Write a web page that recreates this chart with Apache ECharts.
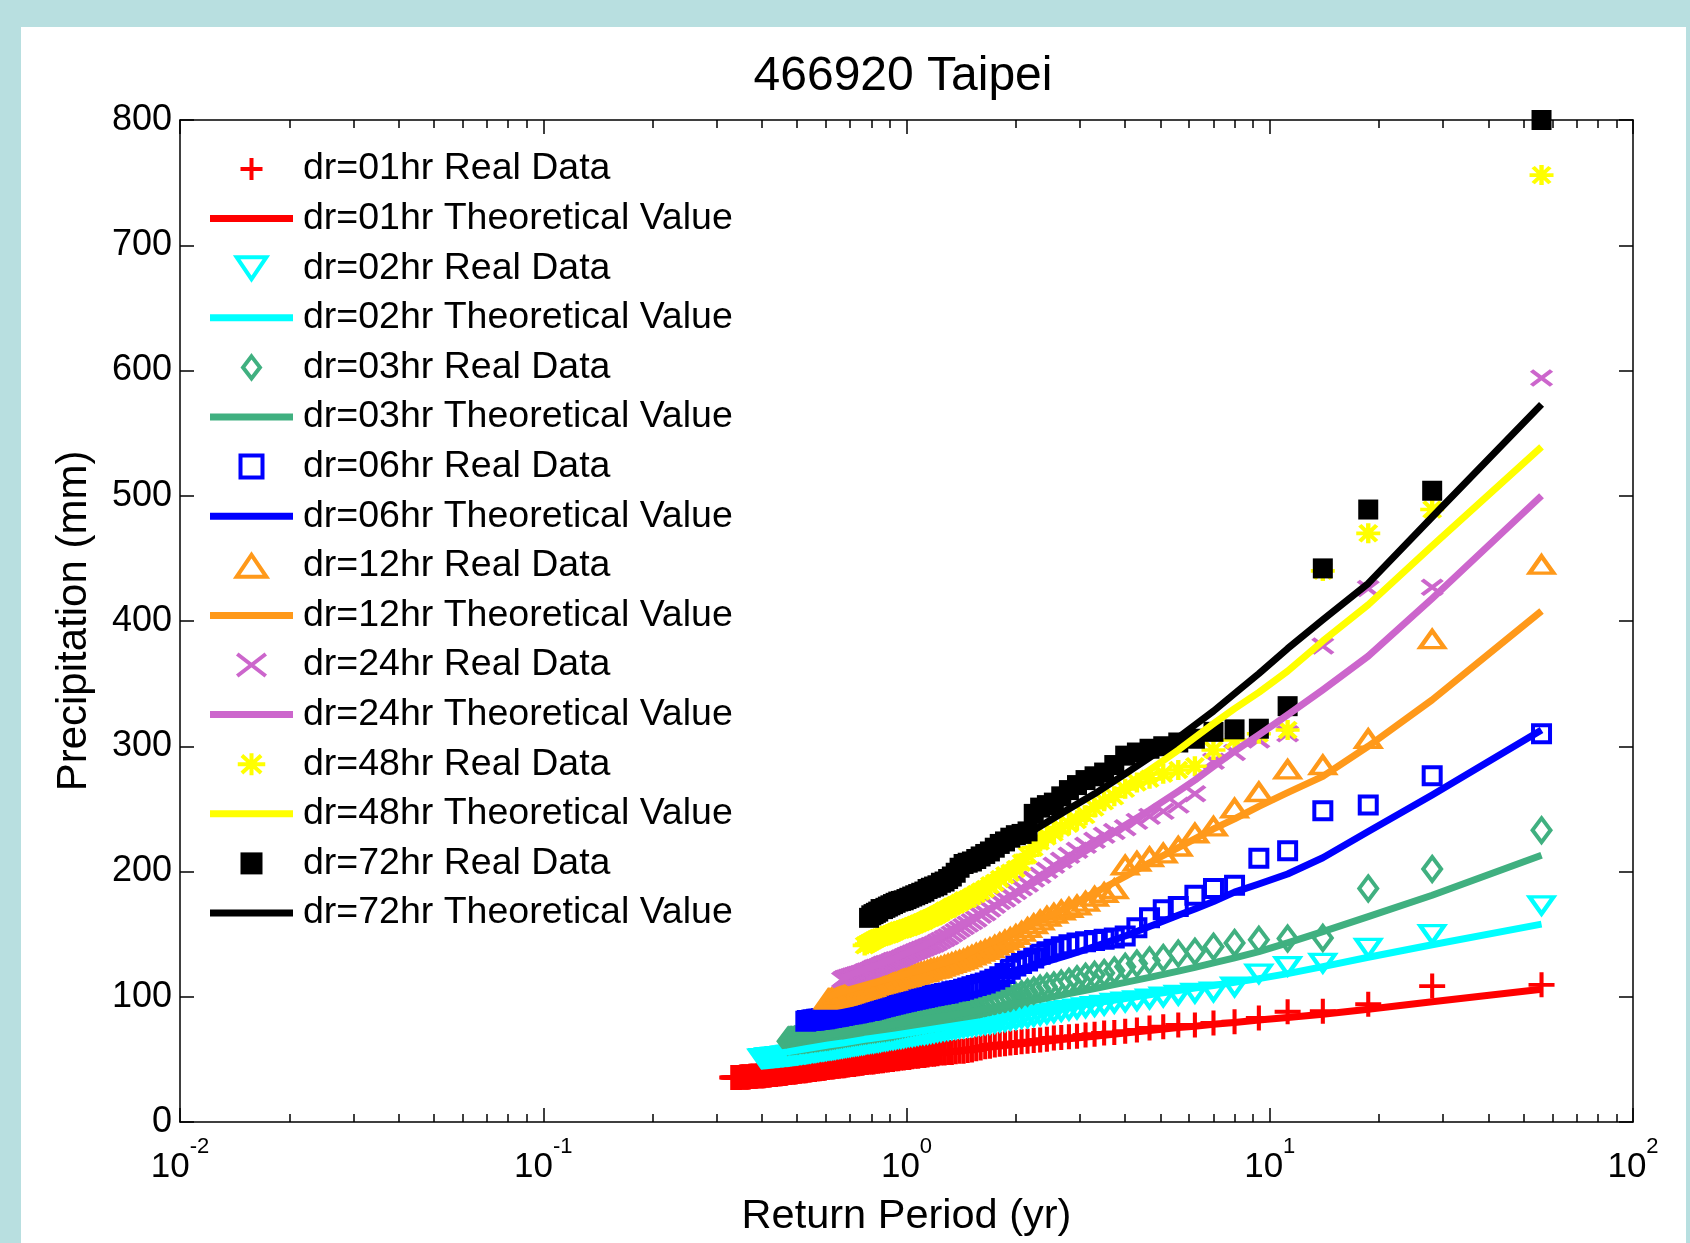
<!DOCTYPE html>
<html>
<head>
<meta charset="utf-8">
<script src="https://cdn.jsdelivr.net/npm/echarts@6/dist/echarts.min.js"></script>
<style>
html,body{margin:0;padding:0;background:#b8dfe0;width:1690px;height:1243px;overflow:hidden;}
#panel{position:absolute;left:21px;top:27px;width:1665px;height:1216px;background:#fff;}
#chart{position:absolute;left:0;top:0;width:1690px;height:1243px;}
</style>
</head>
<body>
<div id="panel"></div>
<div id="chart"></div>
<script>
// Return period (yr) of each ranked event (rank 1 = largest)
const returnPeriod = [
  56, 28, 18.67, 14, 11.2, 9.333, 8, 7, 6.222, 5.6,
  5.091, 4.667, 4.308, 4, 3.733, 3.5, 3.294, 3.111, 2.947, 2.8,
  2.667, 2.545, 2.435, 2.333, 2.24, 2.154, 2.074, 2, 1.931, 1.867,
  1.806, 1.75, 1.697, 1.647, 1.6, 1.556, 1.514, 1.474, 1.436, 1.4,
  1.366, 1.333, 1.302, 1.273, 1.244, 1.217, 1.191, 1.167, 1.143, 1.12,
  1.098, 1.077, 1.057, 1.037, 1.018, 1, 0.9825, 0.9655, 0.9492, 0.9333,
  0.918, 0.9032, 0.8889, 0.875, 0.8615, 0.8485, 0.8358, 0.8235, 0.8116, 0.8,
  0.7887, 0.7778, 0.7671, 0.7568, 0.7467, 0.7368, 0.7273, 0.7179, 0.7089, 0.7,
  0.6914, 0.6829, 0.6747, 0.6667, 0.6588, 0.6512, 0.6437, 0.6364, 0.6292, 0.6222,
  0.6154, 0.6087, 0.6022, 0.5957, 0.5895, 0.5833, 0.5773, 0.5714, 0.5657, 0.56,
  0.5545, 0.549, 0.5437, 0.5385, 0.5333, 0.5283, 0.5234, 0.5185, 0.5138, 0.5091,
  0.5045, 0.5, 0.4956, 0.4912, 0.487, 0.4828, 0.4786, 0.4746, 0.4706, 0.4667,
  0.4628, 0.459, 0.4553, 0.4516, 0.448, 0.4444, 0.4409, 0.4375, 0.4341, 0.4308,
  0.4275, 0.4242, 0.4211, 0.4179, 0.4148, 0.4118, 0.4088, 0.4058, 0.4029, 0.4,
  0.3972, 0.3944, 0.3916, 0.3889, 0.3862, 0.3836, 0.381, 0.3784, 0.3758, 0.3733,
  0.3709, 0.3684, 0.366, 0.3636, 0.3613, 0.359, 0.3567, 0.3544, 0.3522, 0.35,
  0.3478, 0.3457, 0.3436, 0.3415, 0.3394, 0.3373, 0.3353, 0.3333, 0.3314
];

// Ranks at which the theoretical curves are drawn
const theoryRanks = [1, 2, 3, 4, 5, 6, 7, 8, 9, 10, 12, 14, 17, 20, 25, 30, 35, 40, 50, 60, 71, 73, 84, 92, 106, 119, 140, 169];

// Axis ticks
const xMajorTicks = [0.01, 0.1, 1, 10, 100];
const xMinorTicks = [0.02, 0.03, 0.04, 0.05, 0.06, 0.07, 0.08, 0.09,
  0.2, 0.3, 0.4, 0.5, 0.6, 0.7, 0.8, 0.9,
  2, 3, 4, 5, 6, 7, 8, 9,
  20, 30, 40, 50, 60, 70, 80, 90];
const yMin = 0, yMax = 800, yStep = 100;

// Real data (mm), by rank
const dr01Real = [
  109.5, 108.5, 94, 88.5, 88, 83, 80, 79, 77.5, 77.5,
  76, 75, 73.5, 72.5, 71.5, 71, 70, 69.5, 68.5, 68,
  67.5, 67, 66, 65.5, 65, 64.5, 64, 63.5, 63, 62.5,
  62, 61.5, 60.5, 60, 59, 58.5, 57.5, 57, 56.5, 56.5,
  56, 55.5, 55.5, 55, 55, 54.5, 54, 54, 53.5, 53,
  53, 52.5, 52.5, 52, 51.5, 51.5, 51, 51, 50.5, 50.5,
  50, 50, 49.5, 49.5, 49, 49, 48.5, 48.5, 48, 48,
  48, 47.5, 47.5, 47, 47, 46.5, 46.5, 46, 46, 46,
  45.5, 45.5, 45, 45, 45, 44.5, 44.5, 44.5, 44, 44,
  44, 43.5, 43.5, 43, 43, 43, 42.5, 42.5, 42.5, 42,
  42, 42, 41.5, 41.5, 41.5, 41, 41, 41, 41, 40.5,
  40.5, 40.5, 40, 40, 40, 40, 39.5, 39.5, 39.5, 39,
  39, 39, 39, 38.5, 38.5, 38.5, 38.5, 38, 38, 38,
  38, 38, 37.5, 37.5, 37.5, 37.5, 37.5, 37, 37, 37,
  37, 37, 37, 37, 36.5, 36.5, 36.5, 36.5, 36.5, 36.5,
  36.5, 36, 36, 36, 36, 36, 36, 36, 36, 36,
  35.5, 35.5, 35.5, 35.5, 35.5, 35.5, 35.5, 35.5, 35.5
];
const dr02Real = [
  173, 150, 139, 127, 124.5, 118.5, 108, 104, 103, 101.5,
  100, 98.5, 97, 96, 95, 93.5, 92.5, 91.5, 90.5, 89.5,
  88.5, 87.5, 86.5, 85.5, 84.5, 83.5, 83, 82, 81.5, 80.5,
  80, 79, 78.5, 78, 77.5, 77, 76.5, 76, 75.5, 75,
  74.5, 74, 73.5, 73, 72.5, 72, 71.5, 71, 70.5, 70,
  70, 69.5, 69, 68.5, 68.5, 68, 67.5, 67, 67, 66.5,
  66, 66, 65.5, 65, 65, 64.5, 64, 64, 63.5, 63.5,
  63, 63, 62.5, 62, 62, 61.5, 61.5, 61, 61, 60.5,
  60.5, 60, 60, 59.5, 59.5, 59, 59, 58.5, 58.5, 58,
  58, 58, 57.5, 57.5, 57, 57, 57, 56.5, 56.5, 56,
  56, 56, 55.5, 55.5, 55.5, 55, 55, 55, 54.5, 54.5,
  54.5, 54, 54, 54, 53.5, 53.5, 53.5, 53, 53, 53,
  53, 52.5, 52.5, 52.5, 52.5, 52, 52, 52, 52, 51.5,
  51.5, 51.5, 51.5, 51.5, 51, 51, 51, 51, 51, 50.5
];
const dr03Real = [
  233, 202, 186.5, 147, 146.5, 145.5, 143, 140, 136, 134.5,
  131, 129, 126.5, 124, 121, 119, 117.5, 116, 114, 112,
  110.5, 109, 108, 106.5, 105, 103.5, 102, 100.5, 99, 98,
  97, 96, 95, 94, 93, 92, 91, 90, 89, 88,
  87, 86.5, 86, 85, 84.5, 84, 83.5, 83, 82.5, 82,
  81.5, 81, 80.5, 80, 79.5, 79, 78.5, 78, 77.5, 77,
  76.5, 76, 76, 75.5, 75.5, 75, 75, 74.5, 74.5, 74,
  74, 73.5, 73.5, 73, 73, 72.5, 72.5, 72, 72, 71.5,
  71.5, 71, 71, 70.5, 70.5, 70, 70, 69.5, 69.5, 69,
  69, 68.5, 68.5, 68.5, 68, 68, 68, 67.5, 67.5, 67.5,
  67, 67, 67, 66.5, 66.5, 66.5, 66, 66, 66, 66,
  65.5, 65.5, 65.5, 65.5, 65, 65, 65, 65, 64.5
];
const dr06Real = [
  310, 276.5, 253, 248.5, 216.5, 210.5, 189, 186.5, 181, 172,
  169.5, 163, 155, 148.5, 147, 146, 145, 144, 143, 141.5,
  140, 138, 136, 134, 131, 128.5, 126.5, 124.5, 122, 118.5,
  116, 114, 112.5, 111, 110, 109, 108, 107, 106, 105,
  104.5, 104, 103, 102.5, 102, 101.5, 101, 100.5, 100, 99.5,
  99, 98.5, 98, 97.5, 97, 96.5, 96, 95.5, 95, 94.5,
  94, 93.5, 93, 92.5, 92, 91.5, 91, 90.5, 90, 89.5,
  89, 89, 88.5, 88, 88, 87.5, 87, 87, 86.5, 86.5,
  86, 86, 85.5, 85, 85, 84.5, 84.5, 84, 84, 83.5,
  83.5, 83, 83, 82.5, 82.5, 82.5, 82, 82, 82, 81.5,
  81.5, 81.5, 81, 81, 81, 80.5
];
const dr12Real = [
  445, 385.5, 306, 285, 281.5, 263.5, 250.5, 236, 230.5, 220,
  214.5, 211.5, 208, 205, 186, 183, 180, 176, 173, 171,
  169, 166.5, 164, 161, 158, 155, 152, 149.5, 147, 145,
  143, 141, 139, 137.5, 136, 134.5, 133, 131.5, 130, 129,
  128, 127, 126, 125, 124, 123, 122.5, 122, 121, 120,
  119.5, 119, 118, 117.5, 117, 116, 115.5, 115, 114.5, 114,
  113, 112.5, 112, 111.5, 111, 110.5, 110, 109.5, 109, 108,
  107.5, 107, 106.5, 106, 105.5, 105, 104.5, 104, 103.5, 103,
  102.5, 102, 101.5, 101, 100.5, 100, 99.5, 99, 99, 98.5,
  98, 98
];
const dr24Real = [
  594, 427, 426, 380, 310, 305, 295, 288, 262, 253,
  248, 244, 240, 235, 232, 229, 225, 221, 217, 213,
  209, 205, 201, 197, 194, 190, 187, 184, 181, 178,
  176, 173, 170, 167, 165, 162, 160, 158, 156, 154,
  152, 150, 148, 146.5, 145, 143.5, 142, 141, 140, 139,
  138, 137, 136, 135, 134, 133, 132, 131, 130, 129.5,
  129, 128, 127, 126.5, 126, 125, 124, 123.5, 123, 122,
  121, 120.5, 120, 119, 118.5, 118, 117.5, 117, 116.5, 116,
  115.5, 115, 114.5, 113.5
];
const dr48Real = [
  756, 489, 470, 440, 313, 310, 305, 297, 284, 281,
  278, 274, 271, 266, 260, 256, 251, 245, 241, 238,
  235, 231, 228, 224, 219, 213, 207, 202, 199, 197,
  194, 191, 189, 186, 184, 182, 180, 178, 177, 175,
  173.5, 172, 170, 169, 167, 165.5, 164, 163, 162, 160.5,
  159.5, 158.5, 157.5, 156.5, 155.5, 155, 154, 153.5, 153, 152,
  151, 150, 149.5, 149, 148, 147.5, 147, 146, 145, 144,
  143, 142, 141
];
const dr72Real = [
  800, 504, 489, 442, 332, 314, 313.5, 311.5, 306, 303,
  300, 298, 295, 292.5, 285, 279, 276, 273, 269, 265,
  260, 255, 253, 251, 246, 232, 230, 229, 227, 224,
  222, 219, 216, 214, 212, 210, 208, 207, 206, 203,
  199, 196, 194, 192, 191, 189, 188, 187, 186, 184,
  183, 182, 181, 180, 179, 178, 177, 176.5, 176, 175,
  174, 173, 172, 171, 170, 170, 168, 167, 166, 165,
  163
];

// Theoretical values (mm) at theoryRanks (null = beyond the record)
const dr01Theory = [106, 96, 90, 86, 83.5, 81.5, 79.5, 78, 76.5, 75.5, 73, 71, 68.5, 66.5, 63.5, 61, 59, 57, 54, 51.5, 49, 48.5, 46, 44.5, 42.5, 41, 39, 36.5];
const dr02Theory = [158, 141.5, 131.5, 124, 118.5, 114.5, 111.5, 109, 107, 105, 101.5, 98.5, 95, 92, 87.5, 84, 80, 77.5, 73, 69.5, 66.5, 66, 63, 61.5, 58.5, 56, 53, null];
const dr03Theory = [213, 181, 164, 152, 143, 136, 131, 127, 123.5, 120.5, 115.5, 111.5, 106.5, 102.5, 97, 93, 89.5, 86.5, 82, 78, 75, 74.5, 71.5, 69.5, 67, 65, null, null];
const dr06Theory = [313, 261, 232, 211, 198, 190, 183.5, 176, 170, 165, 156, 148.5, 140, 133.5, 125, 119, 114, 110, 101, 96, 91.5, 91, 87.5, 85, 81.5, null, null, null];
const dr12Theory = [408, 337, 300, 276, 263, 252, 242, 234, 226, 219, 207, 196, 183, 172, 159, 148, 140, 131, 122, 116, 110, 109, 104, 100, null, null, null, null];
const dr24Theory = [500, 418, 372, 345, 325, 309, 296, 284, 273, 264, 249, 237, 221, 208, 191, 177, 166, 157, 141, 131, 123, 122, 115, null, null, null, null, null];
const dr48Theory = [539, 460, 413, 384, 360, 343, 330, 318, 307, 297, 281, 268, 252, 239, 218, 202, 190, 181, 167, 156, 146, 144, null, null, null, null, null, null];
const dr72Theory = [573, 483, 430, 401, 378, 358, 342, 328, 317, 307, 291, 278, 262, 250, 233, 220, 209, 200, 186, 175, 165, null, null, null, null, null, null, null];

const durations = ['dr=01hr', 'dr=02hr', 'dr=03hr', 'dr=06hr', 'dr=12hr', 'dr=24hr', 'dr=48hr', 'dr=72hr'];
const realSets = [dr01Real, dr02Real, dr03Real, dr06Real, dr12Real, dr24Real, dr48Real, dr72Real];
const theorySets = [dr01Theory, dr02Theory, dr03Theory, dr06Theory, dr12Theory, dr24Theory, dr48Theory, dr72Theory];

// ---------- styling ----------
const FONT = '"Liberation Sans", Arial, Helvetica, sans-serif';
const SYM = {
  plus: 'path://M0,5L10,5M5,0L5,10',
  triDown: 'path://M0,0L10,0L5,7.4Z',
  diamond: 'path://M5,0L10,6.5L5,13L0,6.5Z',
  square: 'path://M0,0L10,0L10,10L0,10Z',
  triUp: 'path://M5,0L10,7.4L0,7.4Z',
  cross: 'path://M0,0L10,7.7M10,0L0,7.7',
  star: 'path://M5,0L5,8M0,4L10,4M1.5,0.8L8.5,7.2M8.5,0.8L1.5,7.2'
};
const BAR = 'path://M0,0L83,0L83,7L0,7Z';
const looks = [
  {color: '#ff0000', symbol: SYM.plus,    size: [26, 25], filled: false},
  {color: '#00ffff', symbol: SYM.triDown, size: [24, 17], filled: false},
  {color: '#40b080', symbol: SYM.diamond, size: [18, 24], filled: false},
  {color: '#0000ff', symbol: SYM.square,  size: [17, 17], filled: false},
  {color: '#ff991a', symbol: SYM.triUp,   size: [24, 17], filled: false},
  {color: '#cc66cc', symbol: SYM.cross,   size: [20, 15], filled: false},
  {color: '#ffff00', symbol: SYM.star,    size: [24, 20], filled: false},
  {color: '#000000', symbol: SYM.square,  size: [20, 20], filled: true}
];
const MARK_STROKE = 4;

const series = [];
const legendData = [];
durations.forEach((d, k) => {
  const lk = looks[k];
  const realName = d + ' Real Data';
  const theoryName = d + ' Theoretical Value';
  series.push({
    type: 'scatter',
    name: realName,
    data: realSets[k].map((v, i) => [returnPeriod[i], v]),
    symbol: lk.symbol,
    symbolSize: lk.size,
    clip: false,
    silent: true,
    itemStyle: {
      color: lk.filled ? lk.color : 'rgba(0,0,0,0)',
      borderColor: lk.color,
      borderWidth: lk.filled ? 0 : MARK_STROKE,
      opacity: 1
    },
    emphasis: {disabled: true}
  });
  const tData = [];
  theoryRanks.forEach((r, i) => {
    const v = theorySets[k][i];
    if (v !== null && v !== undefined) tData.push([returnPeriod[r - 1], v]);
  });
  series.push({
    type: 'line',
    name: theoryName,
    data: tData,
    symbol: 'none',
    showSymbol: false,
    silent: true,
    clip: false,
    lineStyle: {color: lk.color, width: 7, cap: 'butt', join: 'round'},
    itemStyle: {color: lk.color, borderWidth: 0},
    emphasis: {disabled: true}
  });
  legendData.push({name: realName, itemStyle: {borderWidth: lk.filled ? 0 : MARK_STROKE}});
  legendData.push({name: theoryName, icon: BAR});
});

const axisLineStyle = {color: '#000', width: 1.5};
const logBase = {
  type: 'log', logBase: 10, min: 0.01, max: 100,
  splitLine: {show: false}, minorTick: {show: false}, minorSplitLine: {show: false}
};

const option = {
  animation: false,
  backgroundColor: 'transparent',
  grid: {left: 180, right: 57, top: 120, bottom: 121, containLabel: false, outerBoundsMode: 'none'},
  graphic: [{
    type: 'text', x: 903, y: 77, silent: true,
    style: {text: '466920 Taipei', font: '48px ' + FONT, fill: '#000', align: 'center', verticalAlign: 'middle'}
  }],
  legend: {
    orient: 'vertical', left: 210, top: 150, padding: 0,
    itemWidth: 83, itemHeight: 22, itemGap: 11.6,
    selectedMode: false,
    textStyle: {fontFamily: FONT, fontSize: 37.5, color: '#000', padding: [0, 0, 0, 5]},
    data: legendData
  },
  xAxis: [
    Object.assign({}, logBase, {
      position: 'bottom',
      axisLine: {show: true, onZero: false, lineStyle: axisLineStyle},
      axisTick: {show: true, inside: true, length: 14, customValues: xMajorTicks, lineStyle: axisLineStyle},
      axisLabel: {
        show: true, customValues: xMajorTicks, margin: 14,
        formatter: function (v) { return '{b|10}{e|' + Math.round(Math.log10(v)) + '}'; },
        rich: {
          b: {fontFamily: FONT, fontSize: 35, lineHeight: 63, color: '#000'},
          e: {fontFamily: FONT, fontSize: 22, lineHeight: 22, padding: [0, 0, 41, 0], color: '#000'}
        }
      },
      name: 'Return Period (yr)', nameLocation: 'middle', nameGap: 74, nameMoveOverlap: false,
      nameTextStyle: {fontFamily: FONT, fontSize: 41.5, color: '#000'}
    }),
    Object.assign({}, logBase, {
      position: 'top',
      axisLine: {show: true, onZero: false, lineStyle: axisLineStyle},
      axisTick: {show: true, inside: true, length: 14, customValues: xMajorTicks, lineStyle: axisLineStyle},
      axisLabel: {show: false}
    }),
    Object.assign({}, logBase, {
      position: 'bottom',
      axisLine: {show: false, onZero: false},
      axisTick: {show: true, inside: true, length: 8, customValues: xMinorTicks, lineStyle: axisLineStyle},
      axisLabel: {show: false}
    }),
    Object.assign({}, logBase, {
      position: 'top',
      axisLine: {show: false, onZero: false},
      axisTick: {show: true, inside: true, length: 8, customValues: xMinorTicks, lineStyle: axisLineStyle},
      axisLabel: {show: false}
    })
  ],
  yAxis: [
    {
      type: 'value', min: yMin, max: yMax, interval: yStep, position: 'left',
      axisLine: {show: true, onZero: false, lineStyle: axisLineStyle},
      axisTick: {show: true, inside: true, length: 14, lineStyle: axisLineStyle},
      axisLabel: {fontFamily: FONT, fontSize: 36, color: '#000', margin: 8},
      splitLine: {show: false},
      name: 'Precipitation (mm)', nameLocation: 'middle', nameGap: 85, nameRotate: 90, nameMoveOverlap: false,
      nameTextStyle: {fontFamily: FONT, fontSize: 42, color: '#000'}
    },
    {
      type: 'value', min: yMin, max: yMax, interval: yStep, position: 'right',
      axisLine: {show: true, onZero: false, lineStyle: axisLineStyle},
      axisTick: {show: true, inside: true, length: 14, lineStyle: axisLineStyle},
      axisLabel: {show: false},
      splitLine: {show: false}
    }
  ],
  series: series
};

const chart = echarts.init(document.getElementById('chart'), null, {renderer: 'canvas'});
chart.setOption(option);
</script>
</body>
</html>
